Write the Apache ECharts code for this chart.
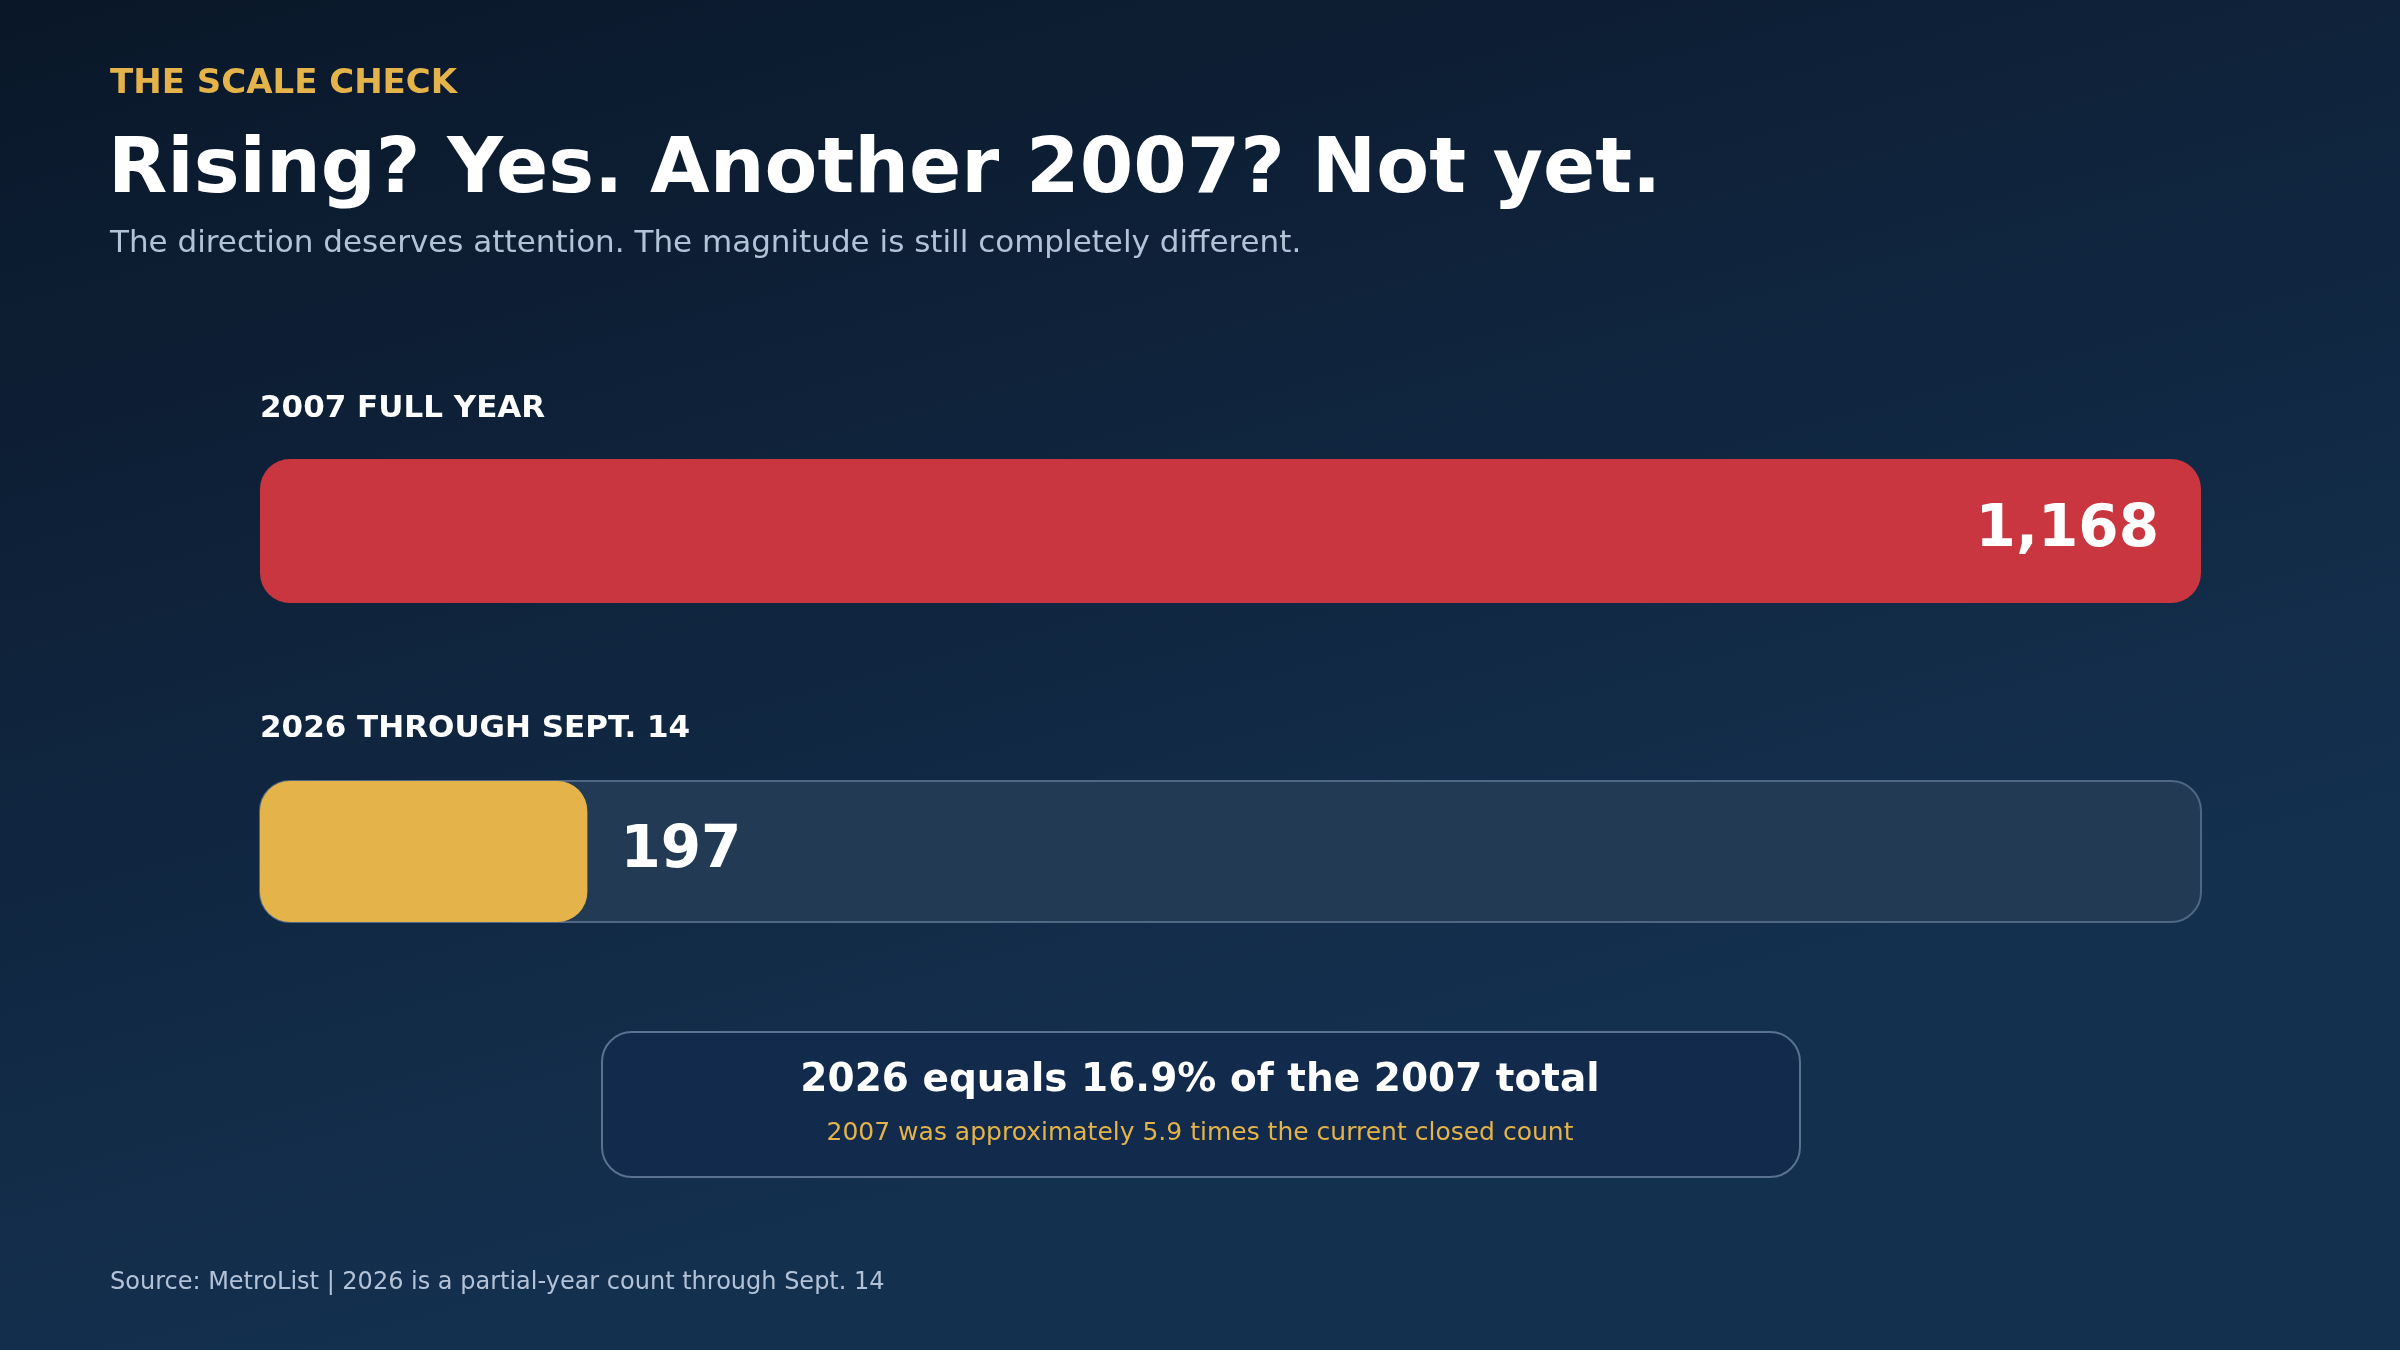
<!DOCTYPE html>
<html><head><meta charset="utf-8">
<script src="https://cdn.jsdelivr.net/npm/echarts@6/dist/echarts.min.js"></script>
<style>html,body{margin:0;padding:0;width:2400px;height:1350px;overflow:hidden}#c{width:2400px;height:1350px}</style>
</head><body><div id="c"></div>
<script>
const categories = ['2007 FULL YEAR', '2026 THROUGH SEPT. 14'];
const values = [1168, 197];
const barColors = ['#c9363f', '#e4b349'];

const F = 'DejaVu Sans';
const chart = echarts.init(document.getElementById('c'));
const pct = (values[1] / values[0] * 100).toFixed(1);
const times = (values[0] / values[1]).toFixed(1);
const L = 260, W = 1941;
const grids = [{left: L, width: W, top: 459, height: 144}, {left: L, width: W, top: 781, height: 141}];
const mkAxis = (i) => ({gridIndex: i, type: 'value', min: 0, max: values[0], show: false});
const mkY = (i) => ({gridIndex: i, type: 'category', data: [categories[i]], show: false});
chart.setOption({
  backgroundColor: {type: 'linear', x: 0, y: 0, x2: 0.15, y2: 1, colorStops: [{offset: 0, color: '#0a1729'}, {offset: 1, color: '#14304f'}]},
  grid: grids,
  xAxis: [mkAxis(0), mkAxis(1)],
  yAxis: [mkY(0), mkY(1)],
  series: [
    {type: 'bar', xAxisIndex: 0, yAxisIndex: 0, barWidth: 144, data: [values[0]],
     itemStyle: {color: barColors[0], borderRadius: 30},
     label: {show: true, position: 'insideRight', distance: 42, formatter: p => p.value.toLocaleString('en-US'), color: '#ffffff', fontFamily: F, fontWeight: 'bold', fontSize: 58}},
    {type: 'bar', xAxisIndex: 1, yAxisIndex: 1, barWidth: 141, data: [values[1]],
     showBackground: true,
     backgroundStyle: {color: '#233a55', borderColor: '#4f6782', borderWidth: 2, borderRadius: 30},
     itemStyle: {color: barColors[1], borderRadius: 30},
     label: {show: true, position: 'right', distance: 33, formatter: p => String(p.value), color: '#ffffff', fontFamily: F, fontWeight: 'bold', fontSize: 58}}
  ],
  graphic: [
    {type: 'text', left: 110, top: 67, style: {text: 'THE SCALE CHECK', fill: '#e4b349', font: 'bold 34px "DejaVu Sans"'}},
    {type: 'text', left: 108, top: 133, style: {text: 'Rising? Yes. Another 2007? Not yet.', fill: '#ffffff', font: 'bold 77px "DejaVu Sans"'}},
    {type: 'text', left: 110, top: 228, style: {text: 'The direction deserves attention. The magnitude is still completely different.', fill: '#b3c2d6', font: '31px "DejaVu Sans"'}},
    {type: 'text', left: 260, top: 393, style: {text: categories[0], fill: '#ffffff', font: 'bold 31px "DejaVu Sans"'}},
    {type: 'text', left: 260, top: 713, style: {text: categories[1], fill: '#ffffff', font: 'bold 31px "DejaVu Sans"'}},
    {type: 'rect', shape: {x: 602, y: 1032, width: 1198, height: 145, r: 30}, style: {fill: '#122a4b', stroke: '#5a7190', lineWidth: 2}},
    {type: 'text', x: 1200, y: 1081, style: {text: '2026 equals ' + pct + '% of the 2007 total', fill: '#ffffff', font: 'bold 39px "DejaVu Sans"', align: 'center', verticalAlign: 'middle'}},
    {type: 'text', x: 1200, y: 1133, style: {text: '2007 was approximately ' + times + ' times the current closed count', fill: '#e4b349', font: '25px "DejaVu Sans"', align: 'center', verticalAlign: 'middle'}},
    {type: 'text', left: 110, top: 1271, style: {text: 'Source: MetroList | 2026 is a partial-year count through Sept. 14', fill: '#b3c2d6', font: '24px "DejaVu Sans"'}}
  ]
});
</script></body></html>
